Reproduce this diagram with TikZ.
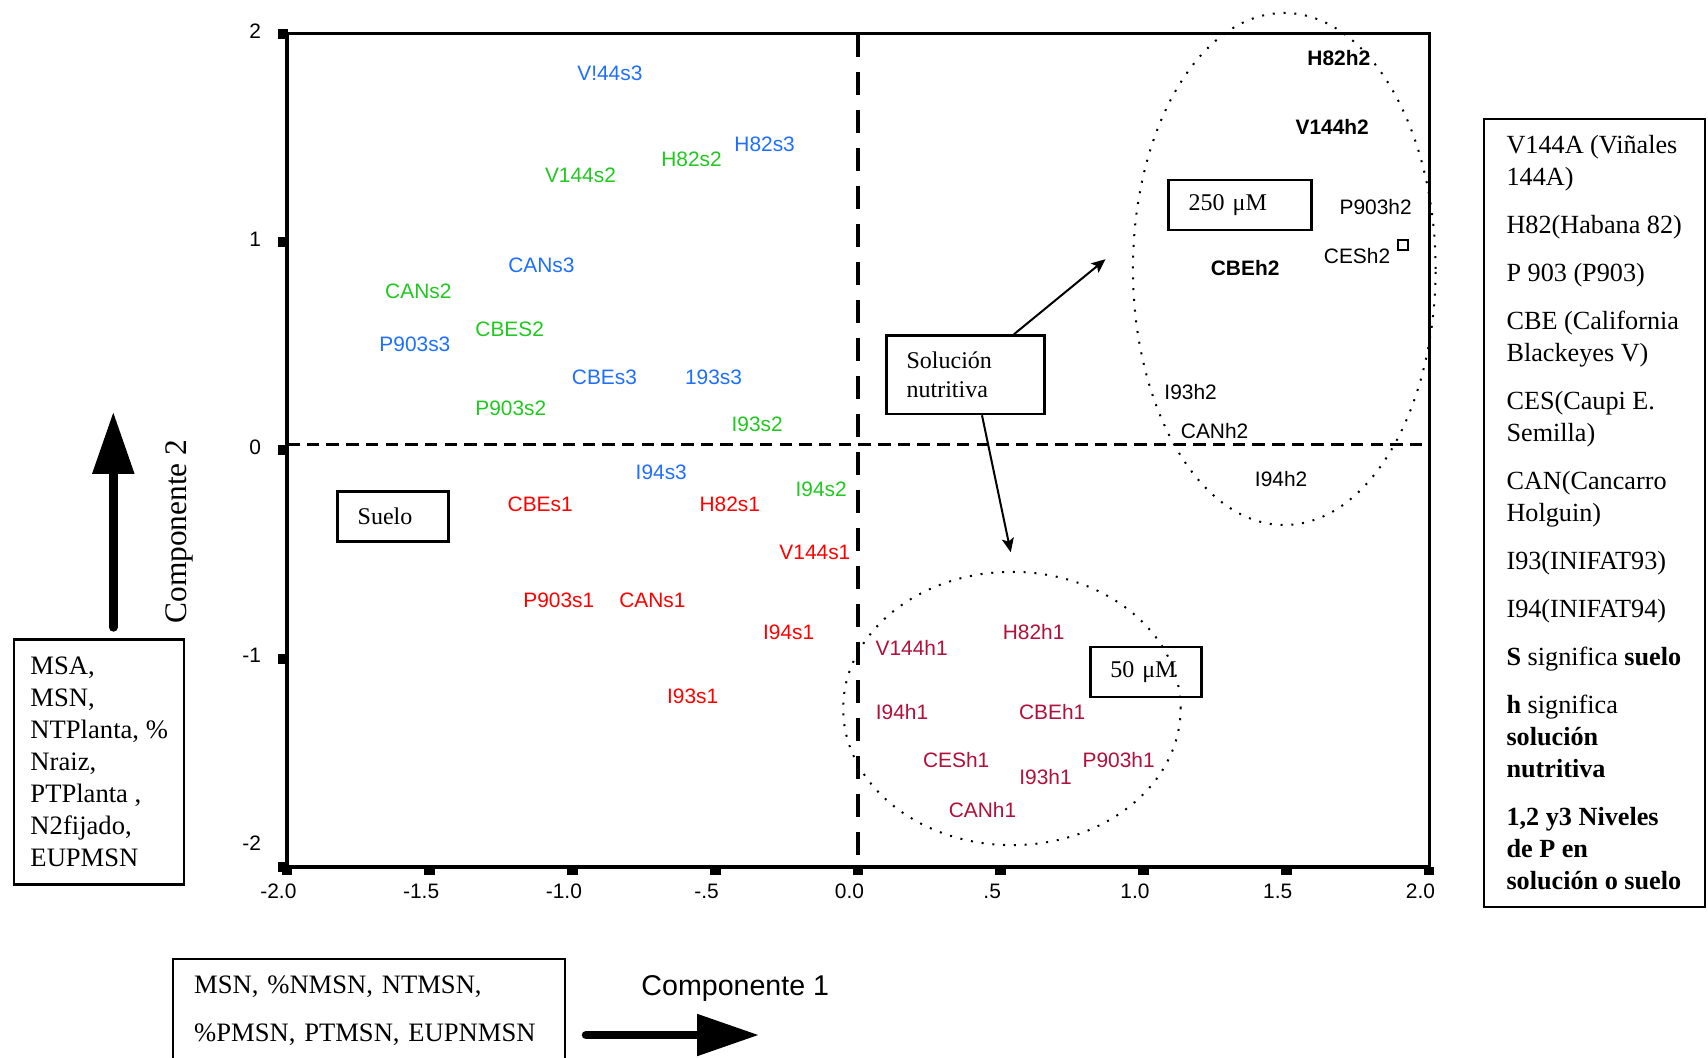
\documentclass[tikz,border=0pt]{standalone}
\usepackage{fontspec}
\setmainfont{Liberation Serif}
\newfontfamily\arialfont{Liberation Sans}
\usepackage{tikz}
\usepackage{xcolor}
\usetikzlibrary{arrows.meta}

\begin{document}
\begin{tikzpicture}[x=0.5pt,y=-0.5pt,
  lbl/.style={font=\arialfont\fontsize{10.45}{12}\selectfont,inner sep=0pt},
  tbox/.style={draw,line width=1.3pt,font=\fontsize{12}{14.2}\selectfont,align=left,inner xsep=10pt,inner ysep=0pt},
  lbox/.style={draw,line width=1.1pt,font=\fontsize{13.3}{16}\selectfont,align=left,inner ysep=0pt},
  ring/.style={line width=1pt,dash pattern=on 1pt off 4.4pt},
  bigarrow/.style={line width=4.25pt,line cap=round,-{Triangle[length=31pt,width=20pt]}},
  smallarrow/.style={line width=1pt,-{Stealth[length=7pt,width=6pt,inset=1.5pt]}}]
\definecolor{skyblue}{HTML}{1E6FFF}
\definecolor{leafgreen}{HTML}{20C820}
\definecolor{soilred}{HTML}{FF0000}
\definecolor{winered}{HTML}{B0103A}
\useasboundingbox (0,0) rectangle (1708,1057);

\begin{scope}[shift={(858,450.4)},x=142.75pt,y=104.15pt]
  \draw[line width=1.6pt,dash pattern=on 11.5pt off 7.5pt] (0,2) -- (0,-2);
  \draw[line width=1.6pt,dash pattern=on 6.25pt off 3.6pt] (-2,0.029) -- (2,0.029);
  \draw[line width=1.5pt] (-2,-2) rectangle (2,2);
  \draw[line width=1.7pt] (-2,2) -- (-2,-2) -- (2,-2);
  \foreach \v in {-2,-1,...,2}
  {  \fill (-2,\v) ++(-4.5pt,-2.5pt) rectangle ++(5pt,5pt);}
  \foreach \v in {-2,-1.5,...,2}
  {  \fill (\v,-2) ++(-2.7pt,0pt) rectangle ++(5.4pt,-4pt);}
  \foreach \v/\p in {2/2,1/1,0/0,-1/-1,-2/-1.9}
  {  \node [lbl,anchor=east,yshift=1.5pt] (ytl\v) at (-2.09,\p) {\v};}
  \foreach \v/\t [count=\i] in {-2/-2.0,-1.5/-1.5,-1/-1.0,-0.5/-.5,0/0.0,0.5/.5,1/1.0,1.5/1.5,2/2.0}
  {  \node [lbl,xshift=-4.3pt] (xtl\i) at (\v,-2.115) {\t};}

  % suelo, nivel 3
  \foreach \px/\py/\txt [count=\i] in {-0.869/1.812/V!44s3,-0.327/1.471/H82s3,-1.109/0.891/CANs3,
    -1.552/0.510/P903s3,-0.888/0.353/CBEs3,-0.506/0.353/193s3,-0.689/-0.107/I94s3}
  {  \node [lbl,text=skyblue] (s3-\i) at (\px,\py) {\txt};}
  % suelo, nivel 2
  \foreach \px/\py/\txt [count=\i] in {-0.583/1.399/H82s2,-0.972/1.320/V144s2,-1.540/0.766/CANs2,
    -1.220/0.583/CBES2,-1.216/0.201/P903s2,-0.353/0.123/I93s2,-0.129/-0.186/I94s2}
  {  \node [lbl,text=leafgreen] (s2-\i) at (\px,\py) {\txt};}
  % suelo, nivel 1
  \foreach \px/\py/\txt [count=\i] in {-1.113/-0.259/CBEs1,-0.449/-0.259/H82s1,-0.151/-0.489/V144s1,
    -1.048/-0.719/P903s1,-0.720/-0.719/CANs1,-0.243/-0.871/I94s1,-0.579/-1.179/I93s1}
  {  \node [lbl,text=soilred] (s1-\i) at (\px,\py) {\txt};}
  % solucion, nivel 1
  \foreach \px/\py/\txt [count=\i] in {0.188/-0.949/V144h1,0.615/-0.871/H82h1,0.154/-1.258/I94h1,
    0.680/-1.258/CBEh1,0.344/-1.488/CESh1,0.913/-1.488/P903h1,0.657/-1.566/I93h1,0.436/-1.728/CANh1}
  {  \node [lbl,text=winered] (h1-\i) at (\px,\py) {\txt};}
  % solucion, nivel 2
  \foreach \px/\py/\txt/\wt [count=\i] in {1.684/1.885/H82h2/\bfseries,1.661/1.551/V144h2/\bfseries,
    1.813/1.169/P903h2/\mdseries,1.748/0.933/CESh2/\mdseries,1.356/0.875/CBEh2/\bfseries,
    1.165/0.280/I93h2/\mdseries,1.249/0.092/CANh2/\mdseries,1.482/-0.139/I94h2/\mdseries}
  {  \node [lbl] (h2-\i) at (\px,\py) {\wt\txt};}
  \node [draw,line width=1.2pt,minimum size=5pt,inner sep=0pt] (sq) at (1.908,0.985) {};

  \draw[ring] (1.493,0.871) ellipse [x radius=0.530,y radius=1.229];
  \draw[ring] (0.539,-1.239) ellipse [x radius=0.591,y radius=0.656];

  \node [tbox,text width=35.5pt,minimum height=25pt] (suelo) at (-1.628,-0.316) {Suelo};
  \node [tbox,text width=59pt,minimum height=39.2pt] (sol) at (0.377,0.363) {Solución\\nutritiva};
  \node [tbox,text width=51.35pt,minimum height=25pt] (m250) at (1.338,1.179) {250 μM};
  \node [tbox,text width=35.5pt,minimum height=25pt] (m50) at (1.008,-1.064) {50 μM};
  \coordinate (toh2) at (0.867,0.918);
  \coordinate (toh1) at (0.535,-0.489);
  \draw[smallarrow] (sol.40) -- (toh2);
  \draw[smallarrow] (sol.-68) -- (toh1);
\end{scope}

\node [lbox,anchor=north west,minimum width=110.5pt,minimum height=394.3pt,inner xsep=9pt,
  font=\fontsize{13.1}{16}\selectfont] (legend) at (1482.6,117.6)
  {V144A (Viñales\\144A)\\[8pt]
   H82(Habana 82)\\[8pt]
   P 903 (P903)\\[8pt]
   CBE (California\\Blackeyes V)\\[8pt]
   CES(Caupi E.\\Semilla)\\[8pt]
   CAN(Cancarro\\Holguin)\\[8pt]
   I93(INIFAT93)\\[8pt]
   I94(INIFAT94)\\[8pt]
   \textbf{S} significa \textbf{suelo}\\[8pt]
   \textbf{h} significa\\\textbf{solución}\\\textbf{nutritiva}\\[8pt]
   \textbf{1,2 y3 Niveles}\\\textbf{de P en}\\\textbf{solución o suelo}};

\node [lbox,anchor=north west,minimum width=85pt,minimum height=122.5pt] (vars2) at (13.1,638.3)
  {MSA,\\MSN,\\NTPlanta, \%\\Nraiz,\\PTPlanta ,\\N2fijado,\\EUPMSN};
\node [lbox,anchor=north west,text width=175pt,inner xsep=10.5pt,minimum height=52pt,
  font=\fontsize{13.3}{24}\selectfont] (vars1) at (172.1,957.5)
  {MSN, \%NMSN, NTMSN,\\\%PMSN, PTMSN, EUPNMSN};

\node [rotate=90,font=\fontsize{15.7}{18}\selectfont] (comp2) at (179.7,531.6) {Componente 2};
\node [font=\arialfont\fontsize{14.3}{17}\selectfont] (comp1) at (735.3,988) {Componente 1};
\coordinate (up0) at (113.3,627.4);
\coordinate (up1) at (113.3,411.8);
\draw[bigarrow] (up0) -- (up1);
\coordinate (rt0) at (586,1035);
\coordinate (rt1) at (759,1035);
\draw[bigarrow] (rt0) -- (rt1);
\end{tikzpicture}
\end{document}
